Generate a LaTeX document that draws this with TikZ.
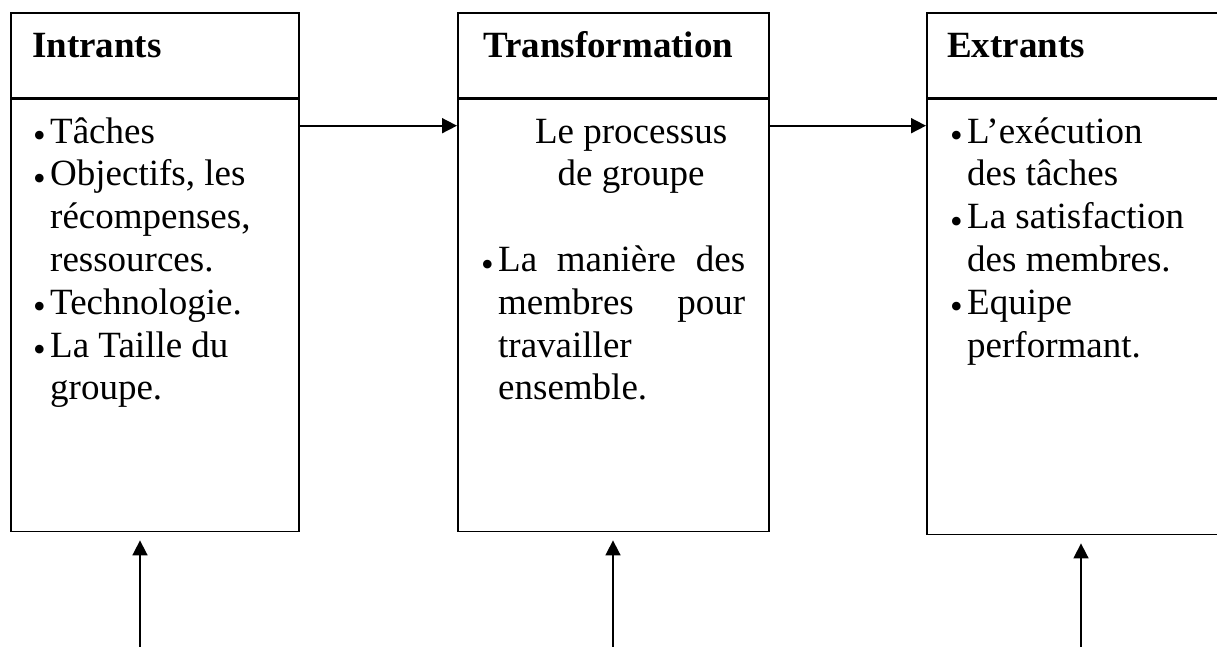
\documentclass[tikz,border=0pt]{standalone}
\usepackage{fontspec}
\setmainfont{Liberation Serif}
\usetikzlibrary{positioning,arrows.meta}
\newcommand{\bul}{\makebox[17pt][l]{\raisebox{-4.5pt}{\fontsize{36}{36}\selectfont\textbullet}}}
\newcommand{\ind}{\hspace*{17pt}}

\begin{document}
\begin{tikzpicture}[x=1pt,y=-1pt,
	frame/.style={draw,line width=1.7pt,anchor=north west,inner sep=0pt},
	title/.style={anchor=base west,inner sep=0pt,font=\fontsize{37}{42.8}\selectfont\bfseries},
	txt/.style={anchor=north west,inner sep=0pt,align=left,font=\fontsize{37}{42.8}\selectfont},
	conn/.style={line width=1.7pt,-{Triangle[length=15pt,width=15pt]}}]
	\useasboundingbox (0,0) rectangle (1217,647);
	% cadres
	\foreach \nm/\x/\w/\h in {in/10/288/432, tr/457/311/432, ex/926/312/435}
	{
		\node[frame,minimum width=\w pt,minimum height=85pt] (\nm-head) at (\x,12) {};
		\node[frame,minimum width=\w pt,minimum height=\h pt,below=0pt of \nm-head] (\nm-body) {};
	}
	% titres
	\node[title] (in-title) at (32,58) {Intrants};
	\node[title] (tr-title) at (483,58) {Transformation};
	\node[title] (ex-title) at (947,58) {Extrants};
	% contenu
	\node[txt] (in-list) at (33,113) {\strut\bul Tâches\\
		\bul Objectifs, les\\
		\ind récompenses,\\
		\ind ressources.\\
		\bul Technologie.\\
		\bul La Taille du\\
		\ind groupe.};
	\node[txt] (tr-list) at (481,113) {\strut\ind\makebox[266pt]{Le processus}\\
		\ind\makebox[266pt]{de groupe}\\
		\mbox{}\\
		\bul\makebox[247pt][s]{La manière des}\\
		\ind\makebox[247pt][s]{membres pour}\\
		\ind travailler\\
		\ind ensemble.};
	\node[txt] (ex-list) at (950,113) {\strut\bul L’exécution\\
		\ind des tâches\\
		\bul La satisfaction\\
		\ind des membres.\\
		\bul Equipe\\
		\ind performant.};
	% fleches
	\draw[conn] ([yshift=-27pt]in-body.north east) -- ([yshift=-27pt]tr-body.north west);
	\draw[conn] ([yshift=-27pt]tr-body.north east) -- ([yshift=-27pt]ex-body.north west);
	\foreach \nm/\x in {in/140, tr/613, ex/1081}
	{
		\coordinate (\nm-src) at (\x,647);
		\draw[conn] (\nm-src) -- ([yshift=-8pt]\nm-src |- \nm-body.south);
	}
\end{tikzpicture}
\end{document}
